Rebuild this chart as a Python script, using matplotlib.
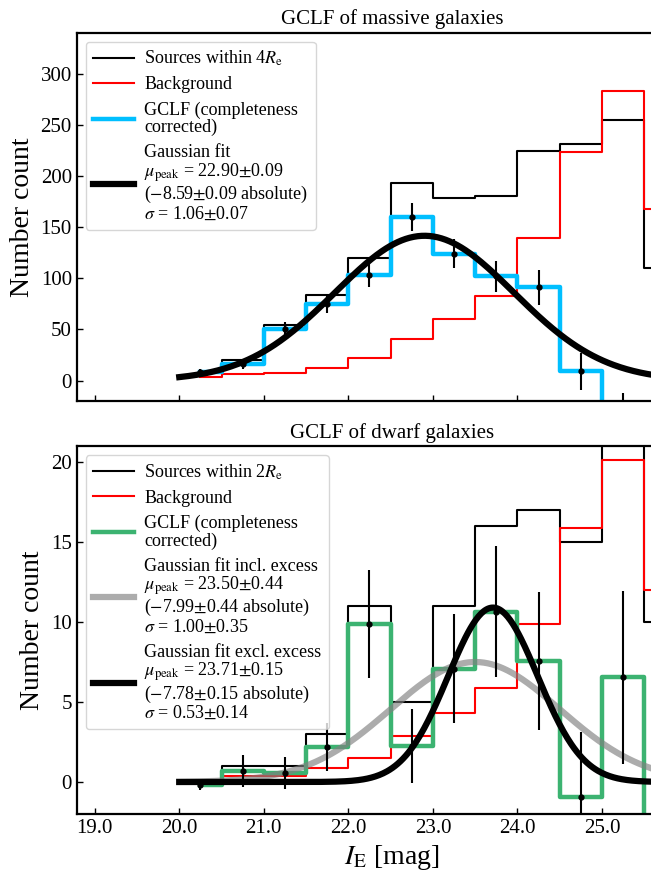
import matplotlib
matplotlib.use("Agg")
import matplotlib.pyplot as plt
import numpy as np
from matplotlib.ticker import FormatStrFormatter, MultipleLocator, FixedLocator

plt.rcParams["font.family"] = ["Liberation Serif", "DejaVu Serif"]
plt.rcParams["mathtext.fontset"] = "stix"
plt.rcParams["axes.linewidth"] = 1.6

# bin centres (0.5 mag bins)
centres = [20.25, 20.75, 21.25, 21.75, 22.25, 22.75, 23.25, 23.75, 24.25, 24.75, 25.25, 25.75]
xticks = [19.0, 20.0, 21.0, 22.0, 23.0, 24.0, 25.0]

# --- massive galaxies -------------------------------------------------------
massive_src = [8, 20, 54, 84, 120, 193, 178, 180, 224, 231, 255, 110]
massive_bkg = [3, 6, 7, 12, 22, 41, 60, 83, 139, 223, 283, 168]
massive_gclf = [8, 16, 50, 75, 103, 160, 124, 102, 91, 9, -40, -60]
massive_err = [3, 4.5, 7, 9, 12, 14, 14, 15, 17, 18, 28, 30]
massive_fit = dict(amp=141.5, mu=22.90, sigma=1.06)

# --- dwarf galaxies ---------------------------------------------------------
dwarf_src = [0, 1, 1, 3, 11, 5, 11, 16, 17, 15, 25, 10]
dwarf_bkg = [0, 0.4, 0.4, 0.9, 1.5, 2.9, 4.3, 5.9, 9.9, 15.85, 20.1, 12.0]
dwarf_gclf = [-0.2, 0.66, 0.56, 2.2, 9.88, 2.26, 7.07, 10.65, 7.57, -0.95, 6.55, -4]
dwarf_err = [0.3, 1.0, 1.0, 1.5, 3.35, 2.3, 3.4, 4.1, 4.3, 4.1, 5.4, 5.0]
dwarf_fit_incl = dict(amp=7.5, mu=23.50, sigma=1.00)
dwarf_fit_excl = dict(amp=10.9, mu=23.71, sigma=0.53)

XMIN, XMAX = 18.787, 26.25


def gauss(x, amp, mu, sigma):
    return amp * np.exp(-0.5 * ((x - mu) / sigma) ** 2)


def style_axis(ax):
    ax.set_xlim(XMIN, XMAX)
    ax.tick_params(direction="in", labelsize=15, length=4, width=1)
    ax.xaxis.set_major_locator(FixedLocator(xticks))
    ax.xaxis.set_major_formatter(FormatStrFormatter("%.1f"))
    ax.set_ylabel("Number count", fontsize=20)


def add_legend(ax):
    leg = ax.legend(loc="upper left", fontsize=13, handlelength=2.3,
                    handletextpad=0.55, labelspacing=0.45)
    for t in leg.get_texts():
        t.set_linespacing(1.0)
    return leg


fig = plt.figure(figsize=(6.51, 8.72), dpi=100)
W = 651.0
H = 872.0
px_per_mag = 84.55
width = (XMAX - XMIN) * px_per_mag / W
ax1 = fig.add_axes([76.7 / W, (H - 401) / H, width, (401 - 32.7) / H])
ax2 = fig.add_axes([76.7 / W, (H - 814) / H, width, (814 - 446) / H])

xfit = np.linspace(20.0, XMAX, 400)

# top panel
ax1.step(centres, massive_src, where="mid", color="black", lw=1.5,
         label=r"Sources within 4$R_\mathrm{e}$")
ax1.step(centres, massive_bkg, where="mid", color="red", lw=1.5, label="Background")
ax1.step(centres, massive_gclf, where="mid", color="deepskyblue", lw=3.2,
         label="GCLF (completeness\ncorrected)")
ax1.plot(xfit, gauss(xfit, **massive_fit), color="black", lw=4.5,
         label="Gaussian fit\n"
               r"$\mu_\mathrm{peak}$ = 22.90$\pm$0.09" "\n"
               r"($-$8.59$\pm$0.09 absolute)" "\n"
               r"$\sigma$ = 1.06$\pm$0.07")
ax1.errorbar(centres, massive_gclf, yerr=massive_err, fmt="o", color="black",
             ms=3.5, elinewidth=1.5, capsize=0, zorder=5)
ax1.set_ylim(-20, 340)
ax1.yaxis.set_major_locator(MultipleLocator(50))
ax1.tick_params(labelbottom=False)
ax1.set_title("GCLF of massive galaxies", fontsize=15, pad=6)
style_axis(ax1)
add_legend(ax1)

# bottom panel
ax2.step(centres, dwarf_src, where="mid", color="black", lw=1.5,
         label=r"Sources within 2$R_\mathrm{e}$")
ax2.step(centres, dwarf_bkg, where="mid", color="red", lw=1.5, label="Background")
ax2.step(centres, dwarf_gclf, where="mid", color="mediumseagreen", lw=3.2,
         label="GCLF (completeness\ncorrected)")
ax2.errorbar(centres, dwarf_gclf, yerr=dwarf_err, fmt="o", color="black",
             ms=3.5, elinewidth=1.5, capsize=0, zorder=3)
ax2.plot(xfit, gauss(xfit, **dwarf_fit_incl), color="grey", alpha=0.65, lw=4.5,
         label="Gaussian fit incl. excess\n"
               r"$\mu_\mathrm{peak}$ = 23.50$\pm$0.44" "\n"
               r"($-$7.99$\pm$0.44 absolute)" "\n"
               r"$\sigma$ = 1.00$\pm$0.35")
ax2.plot(xfit, gauss(xfit, **dwarf_fit_excl), color="black", lw=4.5,
         label="Gaussian fit excl. excess\n"
               r"$\mu_\mathrm{peak}$ = 23.71$\pm$0.15" "\n"
               r"($-$7.78$\pm$0.15 absolute)" "\n"
               r"$\sigma$ = 0.53$\pm$0.14")
ax2.set_ylim(-2, 21)
ax2.yaxis.set_major_locator(MultipleLocator(5))
ax2.set_title("GCLF of dwarf galaxies", fontsize=15, pad=6)
ax2.set_xlabel(r"$I_\mathrm{E}$ [mag]", fontsize=20)
style_axis(ax2)
add_legend(ax2)

fig.savefig("out.png", dpi=100)
